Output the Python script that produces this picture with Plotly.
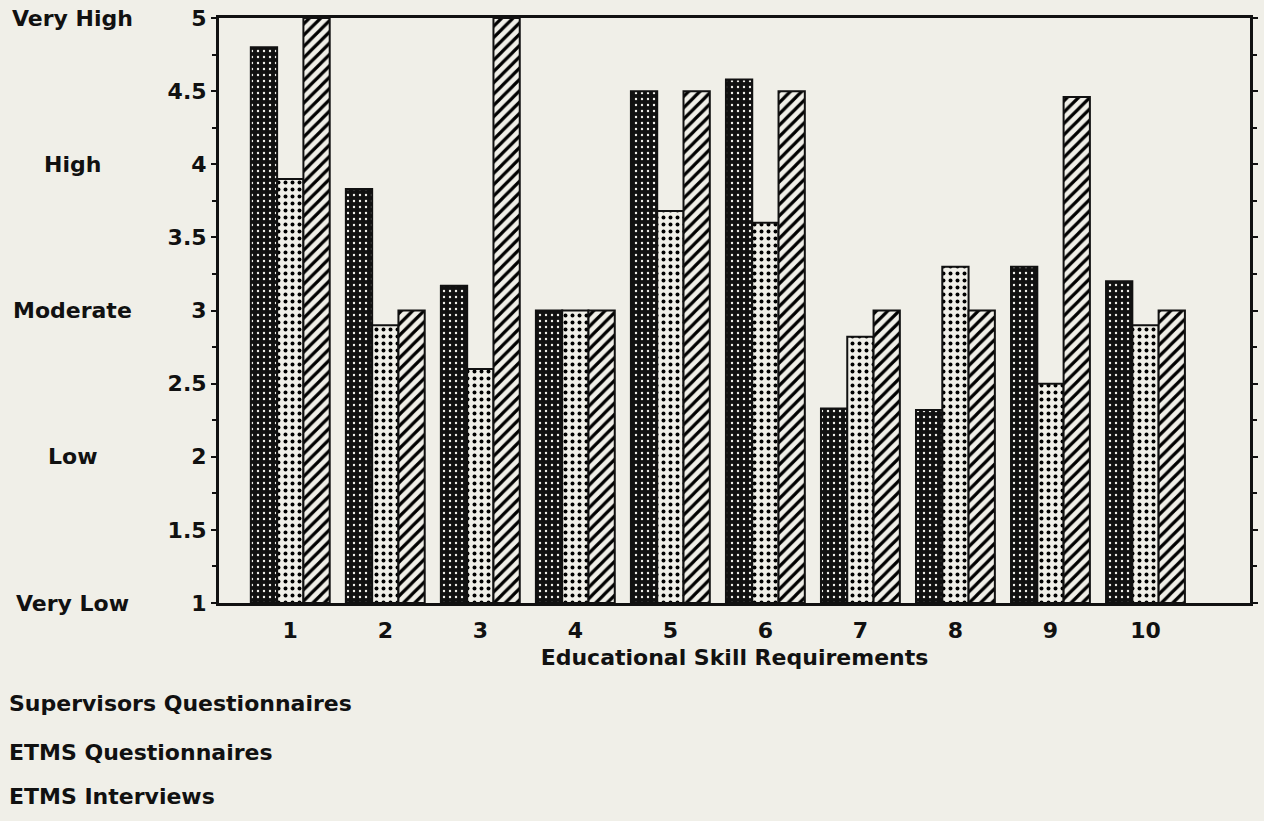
import plotly.graph_objects as go

categories = [1, 2, 3, 4, 5, 6, 7, 8, 9, 10]
tick_labels = ["1", "2", "3", "4", "5", "6", "7", "8", "9", "10"]
supervisors_q = [4.8, 3.83, 3.17, 3.0, 4.5, 4.58, 2.33, 2.32, 3.3, 3.2]
etms_q = [3.9, 2.9, 2.6, 3.0, 3.68, 3.6, 2.82, 3.3, 2.5, 2.9]
etms_i = [5.0, 3.0, 5.0, 3.0, 4.5, 4.5, 3.0, 3.0, 4.46, 3.0]
series_names = ["Supervisors Questionnaires", "ETMS Questionnaires", "ETMS Interviews"]
level_labels = ["Very Low", "Low", "Moderate", "High", "Very High"]
level_values = [1, 2, 3, 4, 5]

BG = "#f0efe8"
INK = "#111111"
FONT = "DejaVu Sans"
FS = 22

def tf(size=FS):
    return dict(family=FONT, size=size, color=INK, weight="bold")

fig = go.Figure()
styles = [
    dict(color=INK, pattern=dict(shape=".", fgcolor="#f4f3ee", bgcolor=INK, size=6, solidity=0.12, fgopacity=1)),
    dict(color=BG, pattern=dict(shape=".", fgcolor="#000000", bgcolor=BG, size=7, solidity=0.25, fgopacity=1)),
    dict(color=BG, pattern=dict(shape="/", fgcolor="#000000", bgcolor=BG, size=8, solidity=0.4, fgopacity=1)),
]
for name, vals, st in zip(series_names, [supervisors_q, etms_q, etms_i], styles):
    fig.add_trace(go.Bar(
        x=categories, y=[v - 1 for v in vals], base=1, name=name,
        marker=dict(color=st["color"], pattern=st["pattern"], line=dict(color=INK, width=2)),
        showlegend=False,
    ))

fig.update_layout(
    width=1264, height=821,
    paper_bgcolor=BG, plot_bgcolor=BG,
    margin=dict(l=219, r=6, t=17, b=218),
    barmode="group", bargap=0.17, bargroupgap=0.0,
    font=tf(),
    xaxis=dict(
        range=[0.25, 11.1], tickvals=categories, ticktext=tick_labels,
        showline=True, linecolor=INK, linewidth=3, mirror=True,
        ticks="", showgrid=False, zeroline=False, ticklabelstandoff=6,
        title=dict(text="Educational Skill Requirements", standoff=8, font=tf()),
        tickfont=tf(),
    ),
    yaxis=dict(
        range=[1, 5], tickvals=[1, 1.5, 2, 2.5, 3, 3.5, 4, 4.5, 5],
        ticktext=["1", "1.5", "2", "2.5", "3", "3.5", "4", "4.5", "5"],
        showline=True, linecolor=INK, linewidth=3, mirror="ticks",
        ticks="outside", ticklen=5, tickwidth=2, tickcolor=INK,
        minor=dict(dtick=0.25, ticks="outside", ticklen=4, tickwidth=2, tickcolor=INK),
        showgrid=False, zeroline=False,
        tickfont=tf(),
    ),
)

# qualitative level labels on the left
for lab, val in zip(level_labels, level_values):
    fig.add_annotation(
        x=-0.142, xref="paper", y=val, yref="y", text=lab, showarrow=False,
        xanchor="center", yanchor="middle", font=tf(),
    )

# legend text
legend_y = [-0.172, -0.256, -0.331]
for name, ly in zip(series_names, legend_y):
    fig.add_annotation(
        x=-0.206, xref="paper", y=ly, yref="paper", text=name,
        showarrow=False, xanchor="left", yanchor="middle", font=tf(),
    )

fig.write_html(
    "out.html",
    config={"displayModeBar": False},
    post_script="document.body.style.margin='0';document.body.style.background='%s';" % BG,
)
